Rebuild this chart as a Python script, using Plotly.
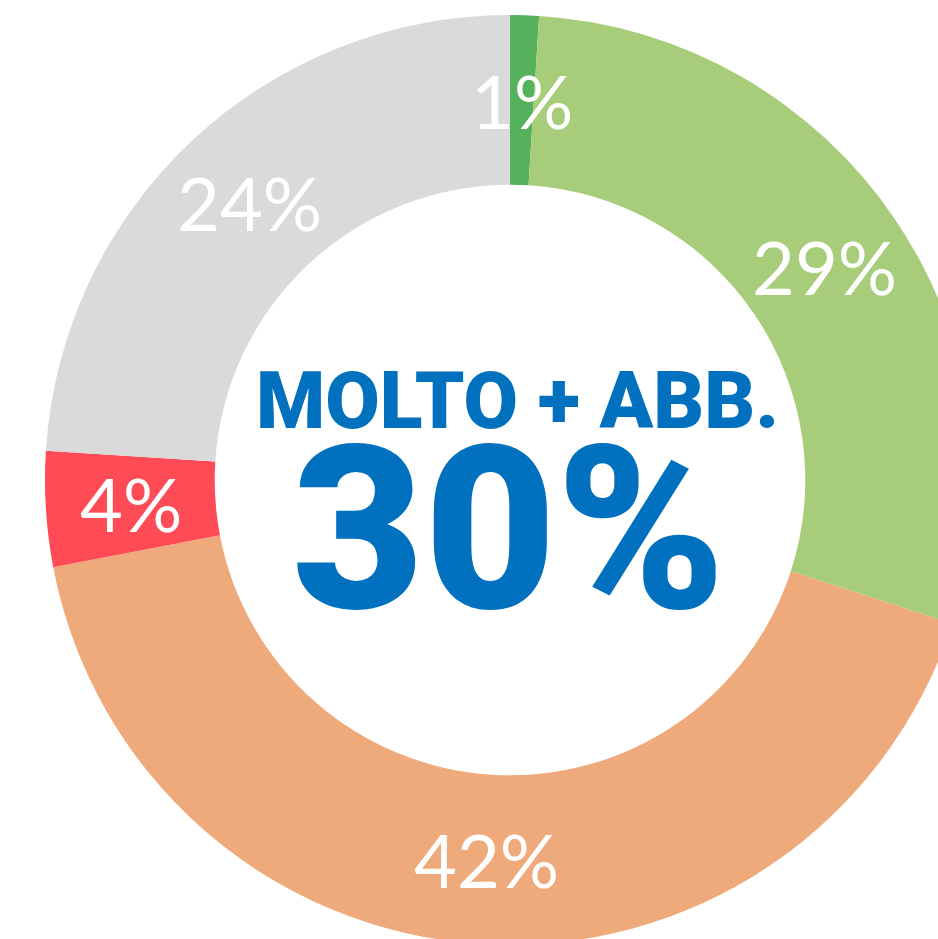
import math
import plotly.graph_objects as go

labels = ["Molto", "Abbastanza", "Poco", "Per niente", "Non so"]
values = [1, 29, 42, 4, 24]
text_labels = ["1%", "29%", "42%", "4%", "24%"]
colors = ["#55B15B", "#A8CD7A", "#EFAA7C", "#FF4B55", "#D9DAD9"]
center_title = "MOLTO + ABB."
center_value = "30%"

W, H = 1000, 960
HOLE = 0.635
dom_x = [45 / W, 975 / W]
dom_y = [15 / H, 945 / H]

fig = go.Figure(go.Pie(
    labels=labels,
    values=values,
    textinfo="none",
    marker=dict(colors=colors, line=dict(width=0)),
    hole=HOLE,
    sort=False,
    direction="clockwise",
    rotation=0,
    domain=dict(x=dom_x, y=dom_y),
    showlegend=False,
    hoverinfo="label+percent",
))

# slice labels at the middle of each ring segment (derived from the values)
cx = (dom_x[0] + dom_x[1]) / 2 * W
cy = (1 - (dom_y[0] + dom_y[1]) / 2) * H
R = min((dom_x[1] - dom_x[0]) * W, (dom_y[1] - dom_y[0]) * H) / 2
r_mid = R * (1 + HOLE) / 2
total = sum(values)
annotations = []
cum = 0
for v, t in zip(values, text_labels):
    ang = 2 * math.pi * (cum + v / 2) / total
    cum += v
    px = cx + r_mid * math.sin(ang)
    py = cy - r_mid * math.cos(ang)
    annotations.append(dict(
        text=t, x=px / W, y=1 - py / H, xref="paper", yref="paper",
        showarrow=False, xanchor="center", yanchor="middle",
        font=dict(family="Lato", size=74, color="white"),
    ))

annotations += [
    dict(text=center_title, x=517 / W, y=1 - 401 / H, xref="paper", yref="paper",
         showarrow=False, font=dict(family="Roboto", size=79, color="#0070BF", weight=900),
         xanchor="center", yanchor="middle"),
    dict(text=center_value, x=509 / W, y=1 - 530 / H, xref="paper", yref="paper",
         showarrow=False, font=dict(family="Roboto", size=228, color="#0070BF", weight=900),
         xanchor="center", yanchor="middle"),
]

fig.update_layout(
    width=W, height=H,
    margin=dict(l=0, r=0, t=0, b=0),
    paper_bgcolor="white",
    plot_bgcolor="white",
    annotations=annotations,
)

fig.write_html(
    "out.html",
    post_script="document.body.style.margin='0';document.body.style.overflow='hidden';",
)
